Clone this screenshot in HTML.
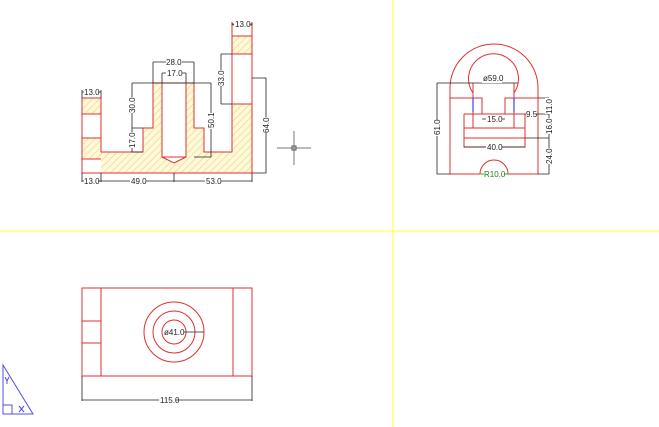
<!DOCTYPE html>
<html><head><meta charset="utf-8"><style>
html,body{margin:0;padding:0;background:#fff;}
svg{display:block;}
text{font-family:"Liberation Sans",sans-serif;font-size:8px;fill:#222;}
</style></head><body>
<svg width="659" height="427" viewBox="0 0 659 427" xmlns="http://www.w3.org/2000/svg">
<defs>
<pattern id="h" width="5" height="5" patternUnits="userSpaceOnUse" patternTransform="rotate(45)">
<rect width="5" height="5" fill="#fff9d8"/><line x1="0" y1="0" x2="0" y2="5" stroke="#e2d48a" stroke-width="1.2"/>
</pattern>
</defs>
<line x1="393" y1="0" x2="393" y2="427" stroke="#ffff70" stroke-width="1.5"/>
<line x1="0" y1="231" x2="659" y2="231" stroke="#ffff70" stroke-width="1.5"/>
<g stroke="#777" stroke-width="1"><line x1="277" y1="148" x2="311" y2="148"/><line x1="294" y1="131" x2="294" y2="165"/></g>
<rect x="292" y="146" width="4" height="4" fill="none" stroke="#555"/>

<path d="M82,98H101V152H143V128H153V83H194V128H204V152H232V25H252V173H82Z" fill="url(#h)" stroke="none"/>
<g fill="#fff">
<rect x="162" y="83" width="24" height="74"/><path d="M162,157L174,163L186,157Z"/>
<rect x="232" y="25" width="20" height="11"/><rect x="232" y="54" width="20" height="50"/>
<rect x="82" y="114" width="19" height="24"/><rect x="82" y="159" width="19" height="14"/>
</g>
<g fill="none" stroke="#e03030" stroke-width="1">
<path d="M82,98H101V152H143V128H153V83H194V128H204V152H232V25H252V173H82Z"/>
<path d="M162,83V157H186V83M162,157L174,163L186,157"/>
<path d="M232,36H252M232,54H252M232,104H252M82,114H101M82,138H101M82,159H101"/>
</g>
<g fill="none" stroke="#222" stroke-width="0.8">
<path d="M82,92H101M82,90V98M101,90V98"/>
<path d="M232,24H252M232,22V25M252,22V25"/>
<path d="M82,173V182M101,173V182M174,173V182M252,173V182M82,181H252"/>
<path d="M153,62H194M153,62V83M194,62V83"/>
<path d="M162,73H186M162,73V83M186,73V83"/>
<path d="M132,83H211M132,83V152M132,128H143M132,152H143"/>
<path d="M211,83V157M194,157H211"/>
<path d="M221,54V104M221,54H232M221,104H232"/>
<path d="M252,78H266V173H252M266,78V173"/>
</g>
<g fill="#fff"><rect x="84" y="88" width="14" height="8"/><rect x="234" y="20" width="16" height="8"/><rect x="84" y="177" width="14" height="8"/><rect x="130" y="177" width="16" height="8"/><rect x="205" y="177" width="16" height="8"/><rect x="166" y="58" width="16" height="8"/><rect x="166" y="69" width="16" height="8"/><rect x="128" y="97" width="8" height="16"/><rect x="128" y="132" width="8" height="16"/><rect x="207" y="113" width="8" height="16"/><rect x="217" y="70" width="8" height="16"/><rect x="262" y="117" width="8" height="16"/></g>
<text x="84" y="95">13.0</text><text x="235" y="27">13.0</text>
<text x="84" y="184">13.0</text><text x="131" y="184">49.0</text><text x="206" y="184">53.0</text>
<text x="166" y="65">28.0</text><text x="167" y="76">17.0</text>
<text transform="translate(135,113) rotate(-90)">30.0</text>
<text transform="translate(135,148) rotate(-90)">17.0</text>
<text transform="translate(214,128) rotate(-90)">50.1</text>
<text transform="translate(224,86) rotate(-90)">33.0</text>
<text transform="translate(269,133) rotate(-90)">64.0</text>

<g fill="none" stroke="#e03030" stroke-width="1">
<path d="M450,174V88A44,44 0 0 1 538,88V174Z"/>
<path d="M473,93A25,25 0 1 1 514,93"/>
<path d="M473,83V128M514,83V128"/>
<path d="M450,98H482V114H505V98H538"/>
<path d="M464,114H482M505,114H525M464,114V147H525V114M464,128H525M464,138H525"/>
<path d="M480,174A14,14 0 0 1 508,174"/>
</g>
<g stroke="#4040ff" stroke-width="1.2"><line x1="473" y1="98" x2="473" y2="112"/><line x1="514" y1="98" x2="514" y2="112"/></g>
<g fill="none" stroke="#222" stroke-width="0.8">
<path d="M437,83H518M437,83V174H450"/>
<path d="M464,147H525"/>
<path d="M482,119H505"/>
<path d="M525,114H549M538,98H549M525,138H549M538,174H549M549,98V174"/>
</g>
<g fill="#fff"><rect x="482" y="75" width="20" height="8"/><rect x="486" y="115" width="16" height="8"/><rect x="486" y="143" width="16" height="8"/><rect x="526" y="110" width="10" height="8"/><rect x="433" y="120" width="8" height="16"/><rect x="545" y="98" width="8" height="16"/><rect x="545" y="118" width="8" height="16"/><rect x="545" y="148" width="8" height="16"/></g>
<text x="483" y="81">ø59.0</text><text x="487" y="122">15.0</text><text x="487" y="150">40.0</text><text x="526" y="117">9.5</text>
<text transform="translate(440,135) rotate(-90)">61.0</text>
<text transform="translate(552,114) rotate(-90)">11.0</text>
<text transform="translate(552,134) rotate(-90)">16.0</text>
<text transform="translate(552,164) rotate(-90)">24.0</text>
<line x1="480" y1="174" x2="508" y2="174" stroke="#30b030" stroke-width="1"/>
<rect x="484" y="170" width="20" height="8" fill="#fff"/>
<text x="484" y="177" style="fill:#208020">R10.0</text>

<g fill="none" stroke="#e03030" stroke-width="1">
<rect x="82" y="288" width="170" height="88"/>
<path d="M101,288V376M233,288V376M82,321H101M82,343H101"/>
<circle cx="174" cy="332" r="30"/><circle cx="174" cy="332" r="21"/><circle cx="174" cy="332" r="12"/>
</g>
<g fill="none" stroke="#222" stroke-width="0.8">
<path d="M174,332H204M82,376V401M252,376V401M82,400H252"/>
</g>
<rect x="164" y="328" width="20" height="8" fill="#fff"/>
<text x="164" y="335">ø41.0</text>
<rect x="159" y="396" width="17" height="8" fill="#fff"/>
<text x="160" y="403">115.0</text>

<g fill="none" stroke="#5050e0" stroke-width="1">
<path d="M3,365V414H33Z"/><path d="M3,405H12V414"/>
<path d="M5,377L7,381L9,377M7,381V384"/>
<path d="M19,406L24,412M24,406L19,412"/>
</g>
</svg>
</body></html>
